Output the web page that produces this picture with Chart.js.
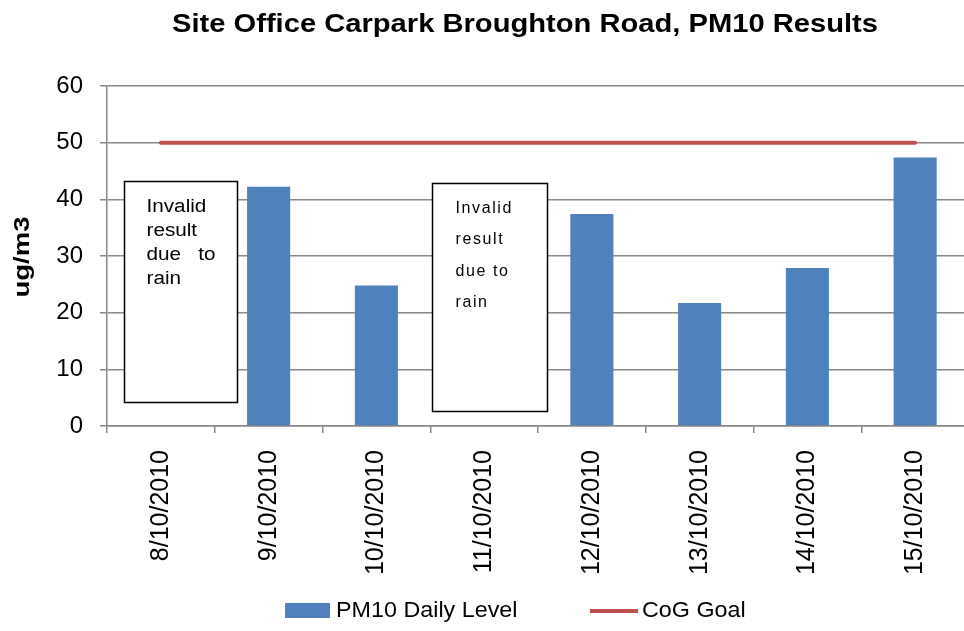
<!DOCTYPE html>
<html>
<head>
<meta charset="utf-8">
<script src="https://cdn.jsdelivr.net/npm/chart.js@4/dist/chart.umd.min.js"></script>
<style>
  html, body { margin: 0; padding: 0; background: #fff; overflow: hidden; }
  canvas { display: block; }
</style>
</head>
<body>
<canvas id="pm10" width="970" height="631"></canvas>
<script>
// --- data ---------------------------------------------------------------
const dates = ['8/10/2010', '9/10/2010', '10/10/2010', '11/10/2010',
               '12/10/2010', '13/10/2010', '14/10/2010', '15/10/2010'];
const pm10  = [null, 42.2, 24.8, null, 37.4, 21.7, 27.9, 47.4];
const goal  = [50, 50, 50, 50, 50, 50, 50, 50];
const yTicks = [0, 10, 20, 30, 40, 50, 60];

// text boxes over the missing days (x in category units, y in ug/m3)
const notes = [
  { at: 0, from: -0.34, to: 0.71, top: 43.2, bottom: 4.2,
    lines: ['Invalid', 'result', 'due   to', 'rain'], style: 'plain' },
  { at: 3, from: -0.48, to: 0.58, top: 42.9, bottom: 2.6,
    lines: ['Invalid', 'result', 'due to', 'rain'], style: 'spaced' }
];

const BLUE = '#4f81bd';
const RED  = '#c0504d';
const GRID = '#878787';
const FONT = '"Liberation Sans", Arial, sans-serif';

// text in the original is a little wider than it is tall
function wideText(ctx, s, x, y, sx) {
  ctx.save();
  ctx.translate(x, y);
  ctx.scale(sx, 1);
  ctx.fillText(s, 0, 0);
  ctx.restore();
}

// title, axis title, notes and legend drawn on the canvas
const extras = {
  id: 'extras',
  afterDraw(chart) {
    const { ctx, scales: { x, y } } = chart;
    ctx.save();

    ctx.fillStyle = '#000';
    ctx.font = 'bold 25px ' + FONT;
    ctx.textAlign = 'center';
    ctx.textBaseline = 'middle';
    const title = 'Site Office Carpark Broughton Road, PM10 Results';
    wideText(ctx, title, 525, 25, 706 / ctx.measureText(title).width);

    ctx.save();
    ctx.translate(23, 257);
    ctx.rotate(-Math.PI / 2);
    ctx.font = 'bold 22px ' + FONT;
    wideText(ctx, 'ug/m3', 0, 0, 1.25);
    ctx.restore();

    notes.forEach(n => {
      const c = x.getPixelForValue(n.at);
      const step = x.getPixelForValue(1) - x.getPixelForValue(0);
      const l = Math.round(c + n.from * step) + 0.5;
      const r = Math.round(c + n.to * step) + 0.5;
      const t = Math.round(y.getPixelForValue(n.top)) + 0.5;
      const b = Math.round(y.getPixelForValue(n.bottom)) + 0.5;
      ctx.fillStyle = '#fff';
      ctx.fillRect(l, t, r - l, b - t);
      ctx.strokeStyle = '#000';
      ctx.lineWidth = 1.5;
      ctx.strokeRect(l, t, r - l, b - t);
      ctx.fillStyle = '#000';
      ctx.textAlign = 'left';
      ctx.textBaseline = 'middle';
      if (n.style === 'plain') {
        ctx.font = '18px ' + FONT;
        n.lines.forEach((s, i) => wideText(ctx, s, l + 22, t + 26 + i * 24, 1.15));
      } else {
        ctx.font = '16px ' + FONT;
        ctx.letterSpacing = '1.6px';
        n.lines.forEach((s, i) => ctx.fillText(s, l + 23, t + 25 + i * 31.5));
        ctx.letterSpacing = '0px';
      }
    });

    // legend
    ctx.font = '22px ' + FONT;
    ctx.textAlign = 'left';
    ctx.textBaseline = 'middle';
    ctx.fillStyle = BLUE;
    ctx.fillRect(285, 603, 45, 15);
    ctx.fillStyle = '#000';
    wideText(ctx, chart.data.datasets[0].label, 336, 611, 1.06);
    ctx.strokeStyle = RED;
    ctx.lineWidth = 4;
    ctx.beginPath();
    ctx.moveTo(590, 611);
    ctx.lineTo(638, 611);
    ctx.stroke();
    wideText(ctx, chart.data.datasets[1].label, 642, 611, 1.06);

    ctx.restore();
  }
};

new Chart(document.getElementById('pm10'), {
  data: {
    labels: dates,
    datasets: [
      {
        type: 'bar',
        label: 'PM10 Daily Level',
        data: pm10,
        backgroundColor: BLUE,
        barPercentage: 1,
        categoryPercentage: 0.4,
        order: 2
      },
      {
        type: 'line',
        label: 'CoG Goal',
        data: goal,
        borderColor: RED,
        borderWidth: 4,
        pointRadius: 0,
        borderCapStyle: 'round',
        order: 1
      }
    ]
  },
  options: {
    responsive: false,
    animation: false,
    layout: { padding: { top: 86, right: 1, left: 0, bottom: 0 } },
    plugins: {
      legend: { display: false },
      title: { display: false },
      tooltip: { enabled: false }
    },
    scales: {
      x: {
        offset: true,
        afterFit: s => { s.height = 205; },
        grid: { drawOnChartArea: false, drawTicks: true, tickLength: 7, color: GRID, lineWidth: 1.5, offset: true },
        border: { color: GRID, width: 1.5 },
        ticks: {
          color: '#000',
          font: { family: FONT, size: 25 },
          minRotation: 90,
          maxRotation: 90,
          padding: 17,
          autoSkip: false
        }
      },
      y: {
        min: 0,
        max: 60,
        afterFit: s => { s.width = 107; },
        afterBuildTicks: s => { s.ticks = yTicks.map(v => ({ value: v })); },
        grid: { color: GRID, lineWidth: 1.5, tickLength: 7 },
        border: { color: GRID, width: 1.5 },
        ticks: {
          color: '#000',
          font: { family: FONT, size: 24 },
          padding: 17
        }
      }
    }
  },
  plugins: [extras]
});
</script>
</body>
</html>
